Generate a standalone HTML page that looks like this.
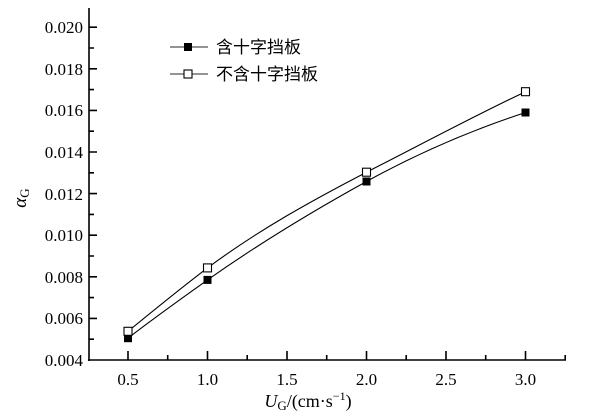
<!DOCTYPE html>
<html><head><meta charset="utf-8"><style>body{margin:0;background:#fff}svg{font-family:"Liberation Serif","Times New Roman",serif}.cjk{font-family:"Liberation Sans","Noto Sans CJK SC",sans-serif}</style></head><body>
<svg width="613" height="413" viewBox="0 0 613 413" xmlns="http://www.w3.org/2000/svg">
<g stroke="#000" stroke-width="1.6" fill="none">
<line x1="89" y1="8" x2="89" y2="361"/>
<line x1="88" y1="360" x2="566" y2="360"/>
<path d="M89,27.2h8M89,68.8h8M89,110.4h8M89,152h8M89,193.6h8M89,235.2h8M89,276.8h8M89,318.4h8M89,48h5M89,89.6h5M89,131.2h5M89,172.8h5M89,214.4h5M89,256h5M89,297.6h5M89,339.2h5"/>
<path d="M128,360v-9M207.5,360v-9M287,360v-9M366.5,360v-9M446,360v-9M525.5,360v-9M167.7,360v-5M247.2,360v-5M326.7,360v-5M406.2,360v-5M485.7,360v-5M565.2,360v-5"/>
</g>
<g font-size="17" text-anchor="end">
<text x="83" y="33">0.020</text><text x="83" y="75">0.018</text><text x="83" y="116">0.016</text><text x="83" y="158">0.014</text><text x="83" y="200">0.012</text><text x="83" y="241">0.010</text><text x="83" y="283">0.008</text><text x="83" y="324">0.006</text><text x="83" y="366">0.004</text>
</g>
<g font-size="17" text-anchor="middle">
<text x="128" y="385">0.5</text><text x="207.5" y="385">1.0</text><text x="287" y="385">1.5</text><text x="366.5" y="385">2.0</text><text x="446" y="385">2.5</text><text x="525.5" y="385">3.0</text>
</g>
<text x="308" y="407" font-size="18" text-anchor="middle"><tspan font-style="italic">U</tspan><tspan font-size="13" dy="3">G</tspan><tspan dy="-3">/(cm·s</tspan><tspan font-size="12" dy="-7">−1</tspan><tspan dy="7">)</tspan></text>
<text transform="translate(26,198) rotate(-90)" font-size="19" text-anchor="middle"><tspan font-style="italic">α</tspan><tspan font-size="13" dy="3">G</tspan></text>
<g stroke="#000" stroke-width="1.1" fill="none">
<path d="M128,338.2 C154,318 181,299 207.5,279.9 C260,243 313,211 366.5,181.5 C420,152 472,130 525.5,112.5"/>
<path d="M128,331.3 C154,310 181,288 207.5,267.9 C260,229 313,200 366.5,172.2 C420,145 472,117 525.5,91.7"/>
</g>
<g fill="#000">
<rect x="124" y="334.2" width="8" height="8"/><rect x="203.5" y="275.9" width="8" height="8"/><rect x="362.5" y="177.5" width="8" height="8"/><rect x="521.5" y="108.5" width="8" height="8"/>
</g>
<g fill="#fff" stroke="#000" stroke-width="1.1">
<rect x="124" y="327.3" width="8" height="8"/><rect x="203.5" y="263.9" width="8" height="8"/><rect x="362.5" y="168.2" width="8" height="8"/><rect x="521.5" y="87.7" width="8" height="8"/>
</g>
<line x1="170" y1="47" x2="208" y2="47" stroke="#555" stroke-width="1.3"/>
<rect x="184" y="43" width="8" height="8" fill="#000"/>
<line x1="170" y1="74" x2="208" y2="74" stroke="#555" stroke-width="1.3"/>
<rect x="184" y="70" width="8" height="8" fill="#fff" stroke="#000" stroke-width="1.1"/>
<g font-size="17" class="cjk">
<text x="216" y="53">含十字挡板</text>
<text x="216" y="80">不含十字挡板</text>
</g>
</svg>
</body></html>
